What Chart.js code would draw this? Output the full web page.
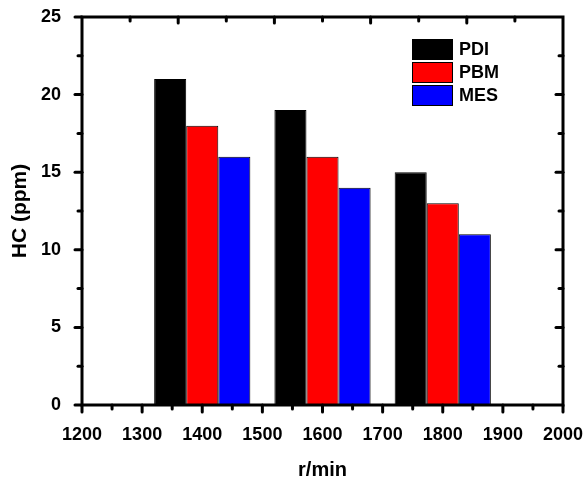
<!DOCTYPE html>
<html>
<head>
<meta charset="utf-8">
<script src="https://cdn.jsdelivr.net/npm/chart.js@4/dist/chart.umd.min.js"></script>
<style>
  html, body { margin: 0; padding: 0; background: #fff; }
  #wrap { width: 584px; height: 479px; }
</style>
</head>
<body>
<div id="wrap"><canvas id="c" width="584" height="479"></canvas></div>
<script>
const categories = [1400, 1600, 1800];
const seriesNames = ['PDI', 'PBM', 'MES'];
const PDI = [21, 19, 15];
const PBM = [18, 16, 13];
const MES = [16, 14, 11];
const seriesColors = ['#000000', '#FF0000', '#0000FF'];
const xTickLabels = [1200, 1300, 1400, 1500, 1600, 1700, 1800, 1900, 2000];
const yTickLabels = [0, 5, 10, 15, 20, 25];

const FONT = "'Liberation Sans', Arial, Helvetica, sans-serif";

function toPoints(vals) { return categories.map((c, i) => ({ x: c, y: vals[i] })); }

const seriesValues = [PDI, PBM, MES];
const datasets = seriesNames.map((n, i) => ({
  label: n,
  data: toPoints(seriesValues[i]),
  backgroundColor: seriesColors[i],
  borderColor: '#000000',
  borderWidth: 1,
  borderSkipped: false,
  categoryPercentage: 1.6,
  barPercentage: 1.0
}));

const framePlugin = {
  id: 'frame',
  afterDatasetsDraw(chart) {
    const ctx = chart.ctx;
    const a = chart.chartArea;
    const xs = chart.scales.x, ys = chart.scales.y;
    ctx.save();
    ctx.strokeStyle = '#000';
    ctx.lineCap = 'butt';
    ctx.lineWidth = 3;
    ctx.strokeRect(a.left, a.top, a.right - a.left, a.bottom - a.top);
    ctx.lineCap = 'round';
    const tick = (x1, y1, x2, y2) => { ctx.beginPath(); ctx.moveTo(x1, y1); ctx.lineTo(x2, y2); ctx.stroke(); };
    for (let v = xs.min; v <= xs.max + 1e-9; v += 50) {
      const px = xs.getPixelForValue(v);
      const len = (Math.round(v) % 100 === 0) ? 7 : 4;
      tick(px, a.bottom, px, a.bottom + len);
    }
    for (let v = ys.min; v <= ys.max + 1e-9; v += 2.5) {
      const py = ys.getPixelForValue(v);
      const len = (Math.abs(v % 5) < 1e-6) ? 7 : 4;
      tick(a.left, py, a.left - len, py);
    }
    for (let v = xs.min + 80; v < xs.max - 1e-9; v += 80) {
      const px = xs.getPixelForValue(v);
      const len = (Math.round(v - xs.min) % 160 === 0) ? 6 : 4;
      tick(px, a.top, px, a.top + len);
    }
    for (let v = ys.min + 2.5; v < ys.max - 1e-9; v += 2.5) {
      const py = ys.getPixelForValue(v);
      const len = (Math.abs(v % 5) < 1e-6) ? 7 : 4;
      tick(a.right, py, a.right - len, py);
    }
    ctx.restore();

    ctx.save();
    const bx = a.right - 151, by0 = a.top + 22, bw = 41, bh = 21, gap = 23;
    chart.data.datasets.forEach((ds, i) => {
      const y = by0 + i * gap;
      ctx.fillStyle = ds.backgroundColor;
      ctx.fillRect(bx, y, bw, bh);
      ctx.strokeStyle = '#000';
      ctx.lineWidth = 1;
      ctx.strokeRect(bx + 0.5, y + 0.5, bw - 1, bh - 1);
      ctx.fillStyle = '#000';
      ctx.font = 'bold 18px ' + FONT;
      ctx.textAlign = 'left';
      ctx.textBaseline = 'middle';
      ctx.fillText(ds.label, bx + bw + 6, y + bh / 2 + 1);
    });
    ctx.restore();
  }
};

new Chart(document.getElementById('c'), {
  type: 'bar',
  data: { datasets },
  options: {
    responsive: false,
    animation: false,
    layout: { padding: { left: 0, top: 17, right: 21, bottom: 0 } },
    plugins: { legend: { display: false }, tooltip: { enabled: false } },
    scales: {
      x: {
        type: 'linear',
        min: 1200, max: 2000,
        offset: false,
        grid: { display: false, drawTicks: false },
        border: { display: false },
        afterBuildTicks(scale) { scale.ticks = xTickLabels.map(v => ({ value: v })); },
        ticks: {
          color: '#000',
          font: { family: FONT, size: 18, weight: 'bold' },
          padding: 19,
          maxRotation: 0,
          autoSkip: false,
          callback: v => String(v)
        },
        title: {
          display: true, text: 'r/min', color: '#000',
          font: { family: FONT, size: 20, weight: 'bold', lineHeight: 1 },
          padding: { top: 0, bottom: -1 }
        },
        afterFit(scale) {
          scale.height = 74;
          scale.paddingLeft = 0; scale.paddingRight = 0;
          scale.paddingTop = 0; scale.paddingBottom = 0;
        }
      },
      y: {
        type: 'linear',
        min: 0, max: 25,
        grid: { display: false, drawTicks: false },
        border: { display: false },
        afterBuildTicks(scale) { scale.ticks = yTickLabels.map(v => ({ value: v })); },
        ticks: {
          color: '#000',
          font: { family: FONT, size: 18, weight: 'bold' },
          padding: 21,
          autoSkip: false,
          callback: v => String(v)
        },
        title: {
          display: true, text: 'HC (ppm)', color: '#000',
          font: { family: FONT, size: 21, weight: 'bold', lineHeight: 1 },
          padding: { top: 10, bottom: 0 }
        },
        afterFit(scale) {
          scale.width = 82;
          scale.paddingLeft = 0; scale.paddingRight = 0;
          scale.paddingTop = 0; scale.paddingBottom = 0;
        }
      }
    }
  },
  plugins: [framePlugin]
});
</script>
</body>
</html>
